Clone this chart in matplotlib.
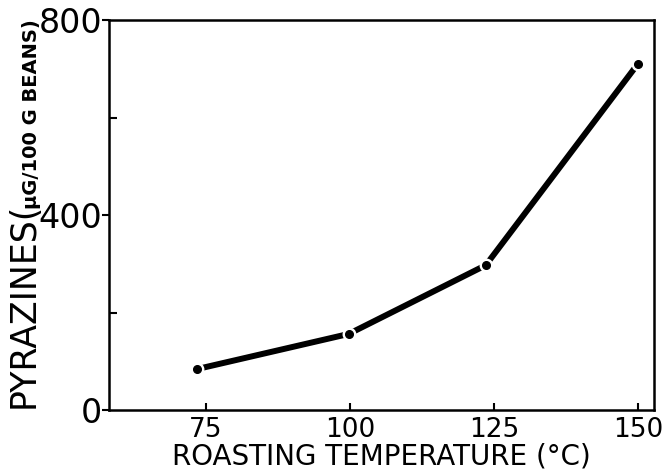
import matplotlib
matplotlib.use("Agg")
import matplotlib.pyplot as plt

# values
temps = [73.5, 99.8, 123.6, 150.0]
pyrazines = [84, 156, 297, 710]

y_major = [0, 400, 800]
y_minor = [200, 600]
x_ticks = [75, 100, 125, 150]

plt.rcParams["font.family"] = "DejaVu Sans"

fig = plt.figure(figsize=(6.64, 4.70), dpi=100)
ax = fig.add_axes([109 / 664, 60 / 470, 545 / 664, 390 / 470])

# thick line; a white disc under each dot gives the small gaps of the original
ax.plot(temps, pyrazines, color="black", lw=4.3, solid_capstyle="round", zorder=2)
ax.plot(temps, pyrazines, ls="none", marker="o", ms=9, mfc="white", mec="white", zorder=3)
ax.plot(temps, pyrazines, ls="none", marker="o", ms=5.5, mfc="black", mec="black", zorder=4)

ax.set_xlim(58.2, 152.8)
ax.set_ylim(0, 800)
ax.set_xticks(x_ticks)
ax.set_yticks(y_major)
ax.set_yticks(y_minor, minor=True)
ax.set_yticklabels([str(v) for v in y_major])

for s in ax.spines.values():
    s.set_linewidth(1.8)
ax.tick_params(axis="x", direction="in", length=5, width=1.5, labelsize=19, pad=5)
ax.tick_params(axis="y", which="major", direction="out", length=5, width=1.5,
               labelsize=24, pad=0)
ax.yaxis.set_tick_params(which="minor", direction="in", length=6, width=1.5)

ax.set_xlabel("ROASTING TEMPERATURE (°C)", fontsize=20, va="top")
ax.xaxis.set_label_coords(0.5, -33 / 390)

fig.text(24 / 664, 1 - 305 / 470, "PYRAZINES(", rotation=90, fontsize=25,
         ha="center", va="center")
fig.text(32 / 664, 1 - 114 / 470, "µG/100 G BEANS)", rotation=90, fontsize=14,
         fontweight="bold", ha="center", va="center")

fig.savefig("out.png", dpi=100)
